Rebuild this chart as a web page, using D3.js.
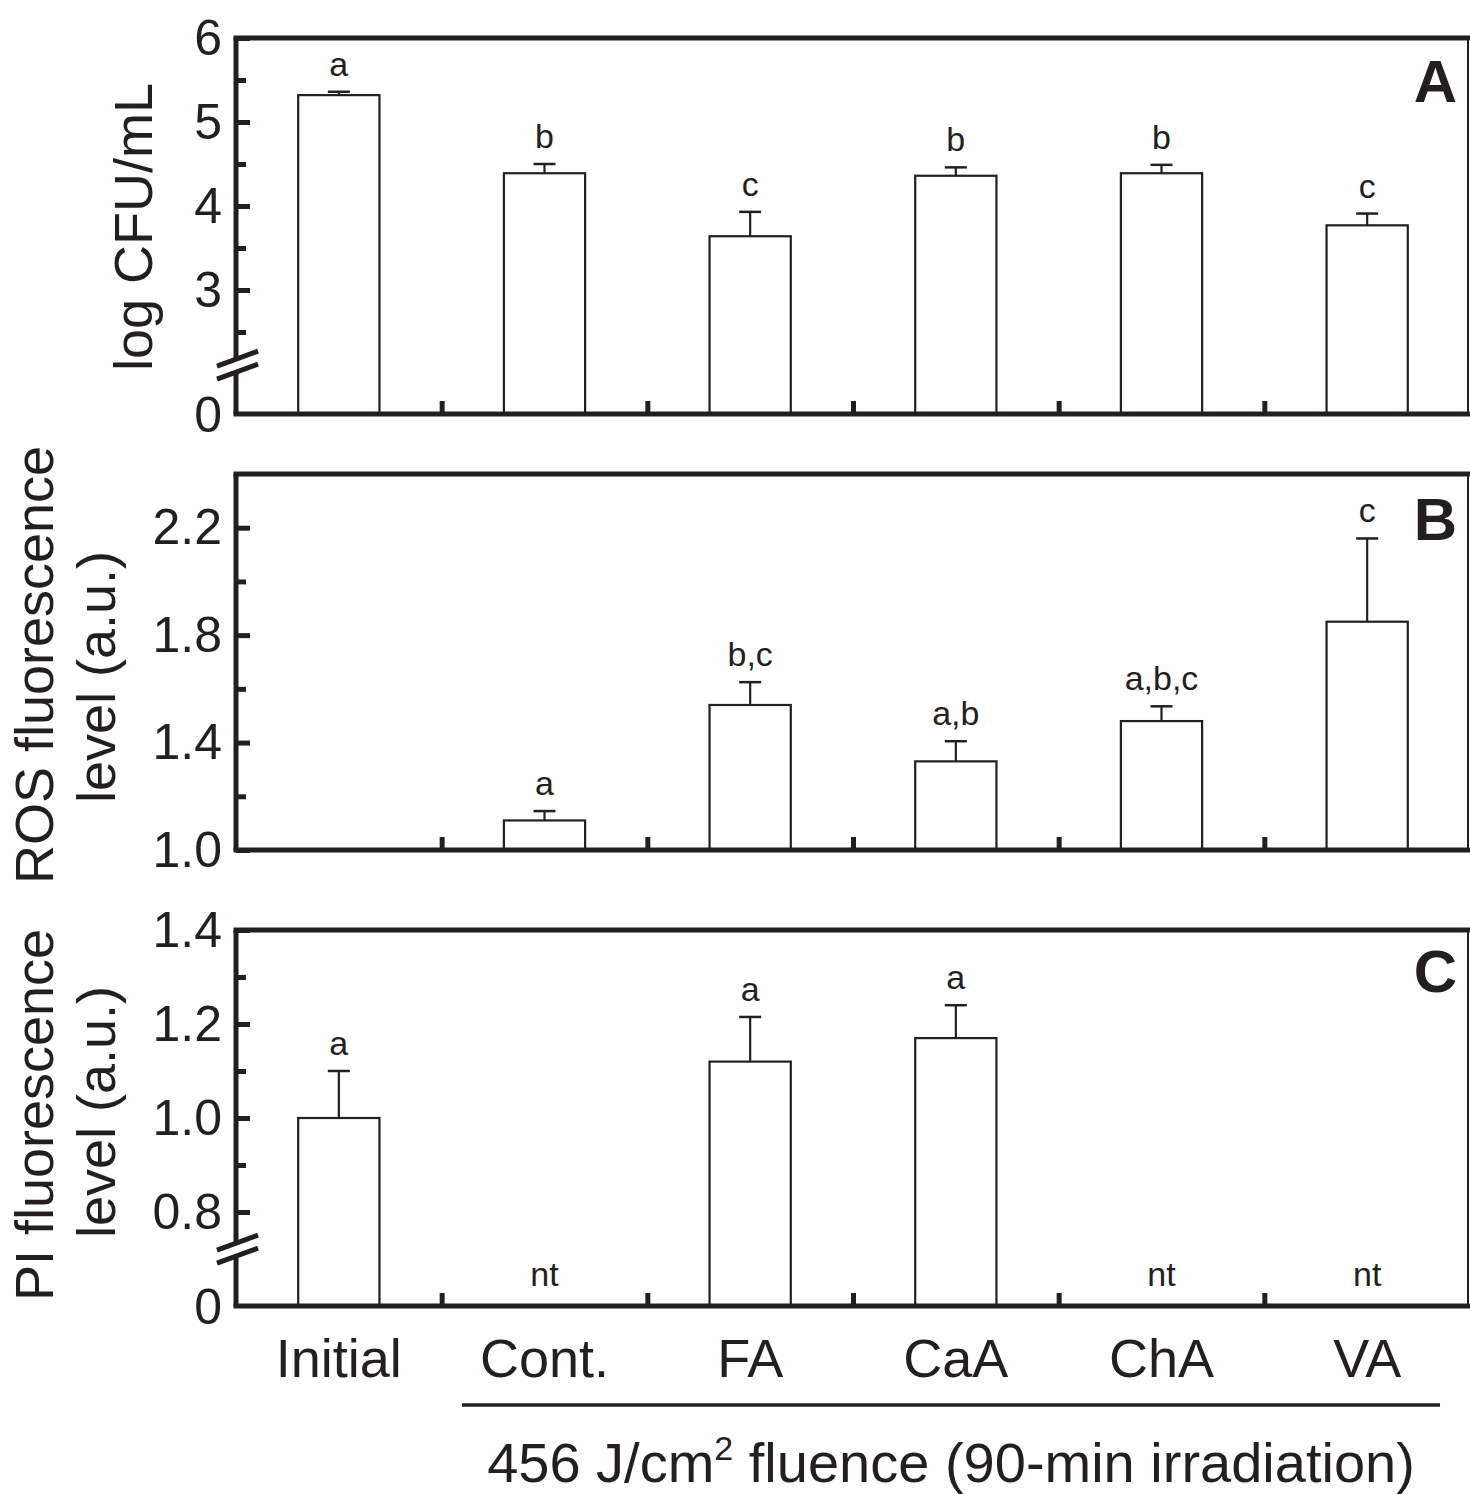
<!DOCTYPE html>
<html>
<head>
<meta charset="utf-8">
<script src="https://cdn.jsdelivr.net/npm/d3@7"></script>
<style>
  body { margin: 0; background: #fff; }
  text { font-family: "Liberation Sans", Arial, sans-serif; fill: #231f20; }
</style>
</head>
<body>
<script>
// categories along x (shared by the three panels)
var categories = ["Initial", "Cont.", "FA", "CaA", "ChA", "VA"];

// panel A: log CFU/mL
var cfuMean = [5.32, 4.39, 3.64, 4.36, 4.39, 3.77];
var cfuErr = [0.04, 0.11, 0.29, 0.10, 0.10, 0.14];
var cfuLetters = ["a", "b", "c", "b", "b", "c"];

// panel B: ROS fluorescence (no value for Initial)
var rosMean = [null, 1.11, 1.54, 1.33, 1.48, 1.85];
var rosErr = [null, 0.035, 0.085, 0.075, 0.055, 0.31];
var rosLetters = ["", "a", "b,c", "a,b", "a,b,c", "c"];

// panel C: PI fluorescence (nt = not tested)
var piMean = [1.0, null, 1.12, 1.17, null, null];
var piErr = [0.10, null, 0.095, 0.07, null, null];
var piLetters = ["a", "nt", "a", "a", "nt", "nt"];

// tick values
var cfuTicks = [3, 4, 5, 6], cfuMinor = [2.5, 3.5, 4.5, 5.5];
var rosTicks = [1.0, 1.4, 1.8, 2.2], rosMinor = [1.2, 1.6, 2.0];
var piTicks = [0.8, 1.0, 1.2, 1.4], piMinor = [0.9, 1.1, 1.3];

var W = 1470, H = 1494;
var left = 236, right = 1470;
var ink = "#231f20";

var svg = d3.select("body").append("svg")
    .attr("width", W)
    .attr("height", H);

var x = d3.scaleBand()
    .domain(categories)
    .range([left, right])
    .paddingInner(0.605)
    .paddingOuter(0.3025);

// boundaries between categories, for the small x ticks
var bnd = d3.scaleLinear().domain([0, categories.length]).range([left, right]);

function panel(opt) {
  var y = opt.y;
  var top = y.range()[y.range().length - 1];
  var bottom = y.range()[0];
  var g = svg.append("g");

  // bars
  var rows = categories.map(function (c, i) {
    return { c: c, v: opt.mean[i], e: opt.err[i], lab: opt.letters[i] };
  });
  var has = rows.filter(function (d) { return d.v != null; });

  g.selectAll("rect.bar").data(has).enter().append("rect")
      .attr("class", "bar")
      .attr("x", function (d) { return x(d.c); })
      .attr("y", function (d) { return y(d.v); })
      .attr("width", x.bandwidth())
      .attr("height", function (d) { return bottom - y(d.v); })
      .attr("fill", "#fff")
      .attr("stroke", ink)
      .attr("stroke-width", 2.2);

  // error bars (upper half only)
  g.selectAll("line.err").data(has).enter().append("line")
      .attr("x1", function (d) { return x(d.c) + x.bandwidth() / 2; })
      .attr("x2", function (d) { return x(d.c) + x.bandwidth() / 2; })
      .attr("y1", function (d) { return y(d.v); })
      .attr("y2", function (d) { return y(d.v + d.e); })
      .attr("stroke", ink).attr("stroke-width", 2.2);
  g.selectAll("line.cap").data(has).enter().append("line")
      .attr("x1", function (d) { return x(d.c) + x.bandwidth() / 2 - 11; })
      .attr("x2", function (d) { return x(d.c) + x.bandwidth() / 2 + 11; })
      .attr("y1", function (d) { return y(d.v + d.e); })
      .attr("y2", function (d) { return y(d.v + d.e); })
      .attr("stroke", ink).attr("stroke-width", 2.5);

  // significance letters
  g.selectAll("text.sig").data(rows.filter(function (d) { return d.lab; })).enter().append("text")
      .attr("x", function (d) { return x(d.c) + x.bandwidth() / 2; })
      .attr("y", function (d) { return d.v == null ? bottom - 20 : y(d.v + d.e) - 16; })
      .attr("text-anchor", "middle")
      .style("font-size", "34px")
      .text(function (d) { return d.lab; });

  // y ticks, pointing inward
  var ya = g.append("g").attr("transform", "translate(" + left + ",0)")
      .call(d3.axisLeft(y).tickValues(opt.ticks).tickSize(-14).tickPadding(14)
        .tickFormat(opt.fmt));
  ya.select(".domain").remove();
  ya.selectAll(".tick line").attr("stroke", ink).attr("stroke-width", 5);
  ya.selectAll(".tick text").style("font-size", "50px").attr("fill", ink)
      .attr("font-family", null);

  var ym = g.append("g").attr("transform", "translate(" + left + ",0)")
      .call(d3.axisLeft(y).tickValues(opt.minor).tickSize(-10).tickFormat(""));
  ym.select(".domain").remove();
  ym.selectAll(".tick line").attr("stroke", ink).attr("stroke-width", 5);

  // x ticks at category boundaries, pointing up
  var xa = g.append("g").attr("transform", "translate(0," + bottom + ")")
      .call(d3.axisBottom(bnd).tickValues([1, 2, 3, 4, 5]).tickSize(-13).tickFormat(""));
  xa.select(".domain").remove();
  xa.selectAll(".tick line").attr("stroke", ink).attr("stroke-width", 5);

  // frame
  g.append("line").attr("x1", left - 2.5).attr("x2", right).attr("y1", top).attr("y2", top)
      .attr("stroke", ink).attr("stroke-width", 5);
  g.append("line").attr("x1", left - 2.5).attr("x2", right).attr("y1", bottom).attr("y2", bottom)
      .attr("stroke", ink).attr("stroke-width", 5);
  g.append("line").attr("x1", left).attr("x2", left).attr("y1", top).attr("y2", bottom)
      .attr("stroke", ink).attr("stroke-width", 5);
  g.append("line").attr("x1", right - 2).attr("x2", right - 2).attr("y1", top).attr("y2", bottom)
      .attr("stroke", ink).attr("stroke-width", 2);

  // bottom "0" label for broken axes
  if (opt.zeroLabel) {
    g.append("text").attr("x", left - 14).attr("y", bottom).attr("dy", "0.36em")
        .attr("text-anchor", "end").style("font-size", "50px").text("0");
  }

  // axis break
  if (opt.brk != null) {
    var by = y(opt.brk);
    g.append("rect").attr("x", left - 4).attr("y", by - 6).attr("width", 8).attr("height", 12)
        .attr("fill", "#fff");
    [-6.5, 6.5].forEach(function (o) {
      g.append("line")
          .attr("x1", left - 19).attr("y1", by + o + 7)
          .attr("x2", left + 22).attr("y2", by + o - 8)
          .attr("stroke", ink).attr("stroke-width", 5);
    });
  }

  // panel letter
  g.append("text").attr("x", 1457).attr("y", opt.letterY)
      .attr("text-anchor", "end")
      .style("font-size", "60px").style("font-weight", "bold")
      .text(opt.letter);

  // y title
  opt.title.forEach(function (t) {
    g.append("text")
        .attr("transform", "translate(" + t[1] + "," + t[2] + ") rotate(-90)")
        .attr("text-anchor", "middle")
        .style("font-size", "54px")
        .text(t[0]);
  });
  return g;
}

var yA = d3.scaleLinear().domain([0, 2, 6]).range([414, 374, 38]);
var yB = d3.scaleLinear().domain([1.0, 2.4]).range([850, 474]);
var yC = d3.scaleLinear().domain([0, 0.7, 1.4]).range([1306, 1259, 930]);

panel({ y: yA, mean: cfuMean, err: cfuErr, letters: cfuLetters,
  ticks: cfuTicks, minor: cfuMinor, fmt: d3.format("d"), zeroLabel: true, brk: 2.1,
  letter: "A", letterY: 102, title: [["log CFU/mL", 152, 227]] });

panel({ y: yB, mean: rosMean, err: rosErr, letters: rosLetters,
  ticks: rosTicks, minor: rosMinor, fmt: d3.format(".1f"), zeroLabel: false, brk: null,
  letter: "B", letterY: 540,
  title: [["ROS fluorescence", 53, 665], ["level (a.u.)", 115, 677]] });

var gC = panel({ y: yC, mean: piMean, err: piErr, letters: piLetters,
  ticks: piTicks, minor: piMinor, fmt: d3.format(".1f"), zeroLabel: true, brk: 0.72,
  letter: "C", letterY: 992,
  title: [["PI fluorescence", 53, 1115], ["level (a.u.)", 115, 1112]] });

// category labels under the bottom panel
var xl = gC.append("g").attr("transform", "translate(0,1306)")
    .call(d3.axisBottom(x).tickSize(0).tickPadding(33));
xl.select(".domain").remove();
xl.selectAll(".tick text").style("font-size", "54px").attr("fill", ink)
    .attr("font-family", null);

// treatment bracket and caption
svg.append("line").attr("x1", 462).attr("x2", 1440).attr("y1", 1405).attr("y2", 1405)
    .attr("stroke", ink).attr("stroke-width", 3.5);
var cap = svg.append("text").attr("x", 951).attr("y", 1482)
    .attr("text-anchor", "middle").style("font-size", "56px");
cap.append("tspan").text("456 J/cm");
cap.append("tspan").attr("dy", -22).style("font-size", "34px").text("2");
cap.append("tspan").attr("dy", 22).text(" fluence (90-min irradiation)");
</script>
</body>
</html>
